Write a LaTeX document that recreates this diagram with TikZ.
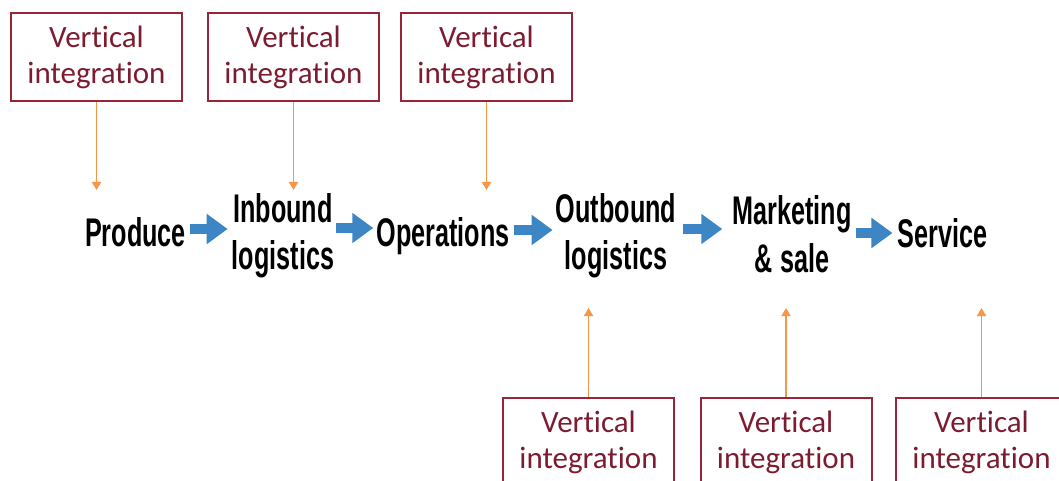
\documentclass[tikz,border=0pt]{standalone}
\usepackage{fontspec}
\setmainfont[Ligatures=NoCommon]{Carlito}
\newfontfamily\stagefont[FakeStretch=0.63]{Liberation Sans}
\usetikzlibrary{arrows.meta,calc}
\definecolor{boxred}{RGB}{152,38,56}
\definecolor{vtext}{RGB}{125,28,48}
\definecolor{oarrow}{RGB}{247,150,70}
\definecolor{barrow}{RGB}{60,134,198}
\begin{document}
\begin{tikzpicture}[x=1pt,y=-1pt,
  vbox/.style={draw=boxred, line width=2pt, minimum width=171pt, minimum height=88pt,
    inner sep=0pt, align=center, text=vtext, font=\fontsize{31}{36}\selectfont},
  stage/.style={inner sep=0pt, align=center, font={\stagefont\bfseries\fontsize{40}{47}\selectfont}},
  oarr/.style={draw=oarrow, line width=1.8pt, -{Triangle[length=8pt,width=9pt]}},
  blk/.style={draw=barrow, line width=10pt, -{Triangle[length=21pt,width=29pt]}}]
\useasboundingbox (0,0) rectangle (1059,481);
\clip (0,0) rectangle (1059,481);
% vertical integration boxes
\node[vbox] (v1) at (96.5,57) {Vertical\\integration};
\node[vbox] (v2) at (293.5,57) {Vertical\\integration};
\node[vbox] (v3) at (486.5,57) {Vertical\\integration};
\node[vbox] (v4) at (588.5,442) {Vertical\\integration};
\node[vbox] (v5) at (786,442) {Vertical\\integration};
\node[vbox] (v6) at (981.5,442) {Vertical\\integration};
% stages
\node[stage, anchor=base] (prod) at (135.5,246) {Produce};
\node[stage, anchor=north] (inb) at (283,193.5) {Inbound\\logistics};
\node[stage, anchor=base] (ops) at (443,246) {Operations};
\node[stage, anchor=north] (outb) at (616,193.5) {Outbound\\logistics};
\node[stage, anchor=north, font={\stagefont\bfseries\fontsize{40}{48}\selectfont}] (mkt) at (792,195) {Marketing\\\& sale};
\node[stage, anchor=base] (svc) at (942.5,247) {Service};
% orange arrow tips
\coordinate (t1) at (v1.south |- 0,190);
\coordinate (t2) at (v2.south |- 0,190);
\coordinate (t3) at (v3.south |- 0,190);
\coordinate (t4) at (v4.north |- 0,308);
\coordinate (t5) at (v5.north |- 0,308);
\coordinate (t6) at (v6.north |- 0,308);
\draw[oarr] (v1.south) -- (t1);
\draw[oarr] (v2.south) -- (t2);
\draw[oarr] (v3.south) -- (t3);
\draw[oarr] (v4.north) -- (t4);
\draw[oarr] (v5.north) -- (t5);
\draw[oarr] (v6.north) -- (t6);
% blue block arrows
\draw[blk] ($(prod.east|-0,229)+(4,0)$) -- ($(inb.west|-0,229)+(-4,0)$);
\draw[blk] ($(inb.east|-0,228)+(2,0)$) -- ($(ops.west|-0,228)+(-3,0)$);
\draw[blk] ($(ops.east|-0,230)+(4,0)$) -- ($(outb.west|-0,230)+(-3,0)$);
\draw[blk] ($(outb.east|-0,229)+(7,0)$) -- ($(mkt.west|-0,229)+(-10,0)$);
\draw[blk] ($(mkt.east|-0,233)+(4,0)$) -- ($(svc.west|-0,233)+(-5,0)$);
\end{tikzpicture}
\end{document}
